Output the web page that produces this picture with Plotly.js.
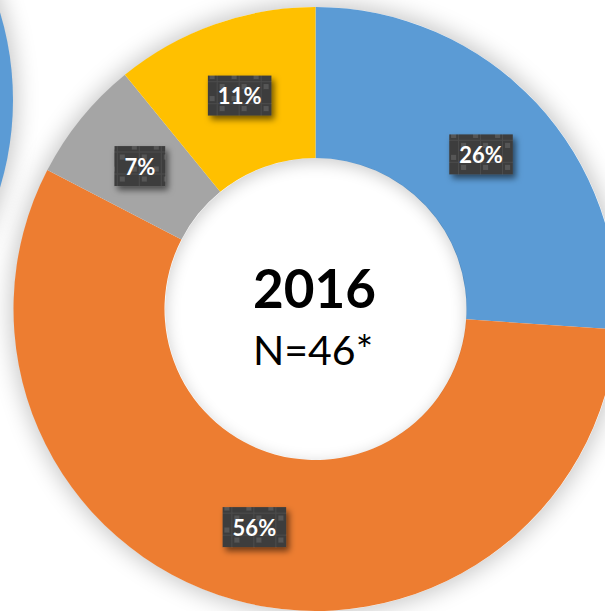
<!DOCTYPE html>
<html><head><meta charset="utf-8">
<script src="https://cdn.plot.ly/plotly-3.0.1.min.js"></script>
<style>
html,body{margin:0;padding:0;width:605px;height:611px;overflow:hidden;background:#fff;}
#bg1{position:absolute;left:13.5px;top:7px;width:604px;height:604px;border-radius:50%;background:#fff;box-shadow:0 0 22px 4px rgba(0,0,0,0.22);}
#bg2{position:absolute;left:-591px;top:-202px;width:604px;height:604px;border-radius:50%;background:#5B9BD5;box-shadow:0 0 22px 4px rgba(0,0,0,0.22);}
#plot{position:absolute;left:0;top:0;width:640px;height:620px;}
#holeShadow{position:absolute;left:164.5px;top:158px;width:302px;height:302px;border-radius:50%;box-shadow:inset 0 4px 16px rgba(0,0,0,0.2);pointer-events:none;}
#defs{position:absolute;width:0;height:0;}
</style></head>
<body>
<svg id="defs" width="0" height="0">
  <defs>
    <pattern id="tex" patternUnits="userSpaceOnUse" width="22" height="22">
      <rect x="0" y="0" width="22" height="22" fill="#3e3e3e"/>
      <rect x="21" y="0" width="1" height="22" fill="#4b4b4b"/>
      <rect x="0" y="21" width="22" height="1" fill="#4b4b4b"/>
      <rect x="2" y="2" width="5" height="5" fill="#565656"/>
      <rect x="14" y="14" width="5" height="5" fill="#565656"/>
    </pattern>
    <filter id="sh" x="-30%" y="-30%" width="170%" height="180%">
      <feDropShadow dx="3" dy="4" stdDeviation="3" flood-color="#000" flood-opacity="0.55"/>
    </filter>
  </defs>
</svg>
<div id="bg2"></div>
<div id="bg1"></div>
<div id="plot"></div>
<div id="holeShadow"></div>
<script>
const categories = ['Category A', 'Category B', 'Category C', 'Category D'];
const counts = [12, 26, 3, 5];
const percentLabels = ['26%', '56%', '7%', '11%'];
const sliceColors = ['#5B9BD5', '#ED7D31', '#A5A5A5', '#FFC000'];
const yearLabel = '2016';
const sampleLabel = 'N=46*';

const W = 640, H = 620;
const cx = 315.5, cy = 309, R = 302;
const HOLE = 0.5;

const trace = {
  type: 'pie',
  labels: categories,
  values: counts,
  text: percentLabels,
  sort: false,
  direction: 'clockwise',
  rotation: 0,
  hole: HOLE,
  marker: {colors: sliceColors, line: {width: 0}},
  texttemplate: '%{text}',
  textposition: 'inside',
  insidetextorientation: 'horizontal',
  textfont: {family: 'Lato', size: 22, color: '#ffffff', weight: 'bold'},
  hoverinfo: 'none',
  showlegend: false,
  domain: {x: [(cx - R) / W, (cx + R) / W], y: [(H - cy - R) / H, (H - cy + R) / H]}
};

const layout = {
  width: W, height: H,
  margin: {l: 0, r: 0, t: 0, b: 0},
  paper_bgcolor: 'rgba(0,0,0,0)',
  plot_bgcolor: 'rgba(0,0,0,0)',
  showlegend: false,
  annotations: [
    {text: '<b>' + yearLabel + '</b>', xref: 'paper', yref: 'paper', x: 314 / W, y: (H - 287) / H,
     showarrow: false, xanchor: 'center', yanchor: 'middle', font: {family: 'Lato', size: 53, color: '#000'}},
    {text: sampleLabel, xref: 'paper', yref: 'paper', x: 313 / W, y: (H - 350) / H,
     showarrow: false, xanchor: 'center', yanchor: 'middle', font: {family: 'Lato', size: 41, color: '#000'}}
  ]
};

const gd = document.getElementById('plot');
Plotly.newPlot(gd, [trace], layout, {staticPlot: true, displayModeBar: false}).then(function () {
  const cd = gd.calcdata[0];
  const cd0 = cd[0];
  const f = (1 + HOLE) / 2;
  const plotRect = gd.getBoundingClientRect();
  const groups = gd.querySelectorAll('g.slice');
  groups.forEach(function (sliceG, i) {
    const g = sliceG.querySelector('g.slicetext');
    if (!g) return;
    const t = g.querySelector('text');
    if (!t) return;
    t.style.fontWeight = 'bold';
    const pt = cd[i];
    // shift the label to the middle of the ring along the slice's mid-angle (from Plotly's calcdata)
    if (pt && pt.pxmid) {
      const want = [cd0.cx + pt.pxmid[0] * f, cd0.cy + pt.pxmid[1] * f];
      const cr = t.getBoundingClientRect();
      const cur = [cr.left + cr.width / 2 - plotRect.left, cr.top + cr.height / 2 - plotRect.top];
      g.setAttribute('transform', 'translate(' + (want[0] - cur[0]) + ',' + (want[1] - cur[1]) + ')');
    }
    const bb = t.getBBox();
    const bw = bb.width + 20, bh = 40;
    const mx = bb.x + bb.width / 2, my = bb.y + bb.height / 2;
    const ns = 'http://www.w3.org/2000/svg';
    const r = document.createElementNS(ns, 'rect');
    r.setAttribute('x', mx - bw / 2);
    r.setAttribute('y', my - bh / 2);
    r.setAttribute('width', bw);
    r.setAttribute('height', bh);
    r.setAttribute('fill', 'url(#tex)');
    r.setAttribute('filter', 'url(#sh)');
    const tr = t.getAttribute('transform');
    if (tr) r.setAttribute('transform', tr);
    g.insertBefore(r, t);
  });
});
</script>
</body></html>
